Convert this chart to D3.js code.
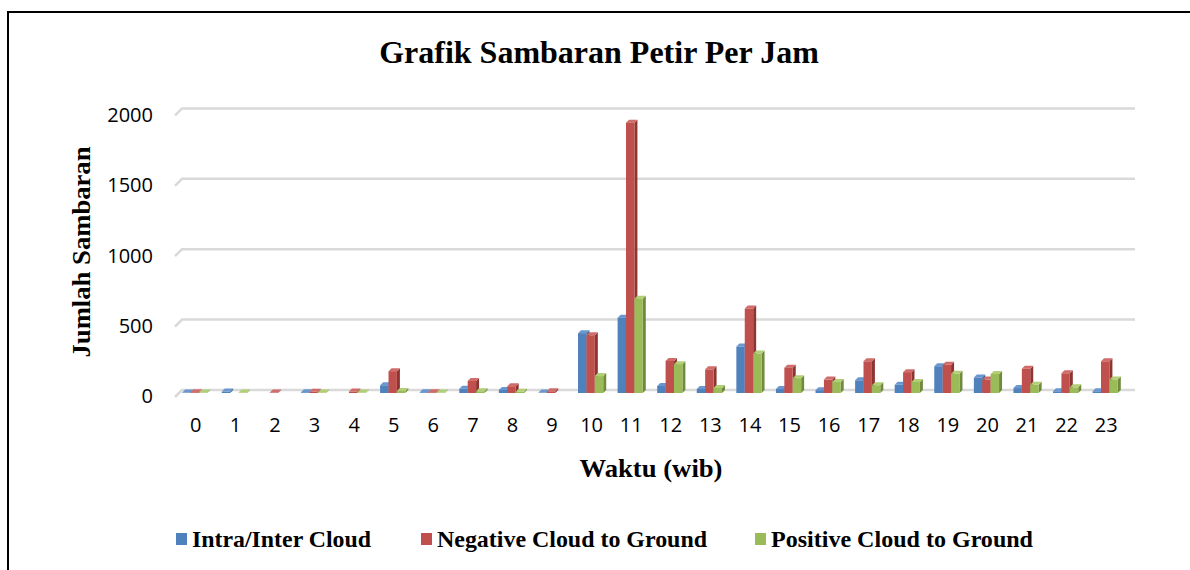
<!DOCTYPE html>
<html>
<head>
<meta charset="utf-8">
<script src="https://cdn.jsdelivr.net/npm/d3@7"></script>
<style>
  body { margin: 0; background: #fff; }
  svg { display: block; }
</style>
</head>
<body>
<svg width="1190" height="570"></svg>
<script>
// hours on x axis
const hours = d3.range(0, 24).map(String);
const seriesNames = ["Intra/Inter Cloud", "Negative Cloud to Ground", "Positive Cloud to Ground"];
const intraCloud = [3, 10, 0, 5, 0, 55, 5, 30, 22, 3, 425, 535, 50, 28, 330, 28, 20, 90, 58, 190, 110, 35, 12, 12];
const negativeCG = [5, 0, 3, 8, 10, 155, 5, 85, 48, 12, 410, 1920, 228, 168, 600, 180, 95, 225, 148, 200, 95, 172, 140, 225];
const positiveCG = [3, 3, 0, 3, 3, 15, 3, 12, 8, 0, 120, 670, 205, 35, 280, 105, 78, 55, 78, 136, 135, 58, 40, 95];
const yTicks = [0, 500, 1000, 1500, 2000];

const colors = ["#4F81BD", "#C0504D", "#9BBB59"];
const sideColors = ["#38608f", "#8e3532", "#718b3d"];
const topColors = ["#6a97cf", "#d06d6a", "#b1cf74"];

const svg = d3.select('svg');

// outer frame (only left and top visible)
svg.append('path')
    .attr('d', 'M8,570 L8,12 L1190,12')
    .attr('fill', 'none')
    .attr('stroke', '#000')
    .attr('stroke-width', 2);

const x = d3.scaleBand()
    .domain(hours)
    .range([176, 1126]);

// back wall scale
const y = d3.scaleLinear()
    .domain([0, 2000])
    .range([390, 108.4]);

const dx = 7, dy = 7; // floor depth

// gridlines with little slanted floor edge
const grid = svg.append('g');
yTicks.forEach(t => {
    const yy = y(t);
    grid.append('path')
        .attr('d', `M${182 - dx},${yy + dy} L182,${yy} L1135,${yy}`)
        .attr('fill', 'none')
        .attr('stroke', '#d9d9d9')
        .attr('stroke-width', 2.5);
});

// y tick labels
svg.append('g')
    .selectAll('text')
    .data(yTicks)
    .enter()
    .append('text')
    .attr('x', 153)
    .attr('y', d => y(d) + 8)
    .attr('text-anchor', 'end')
    .attr('dominant-baseline', 'middle')
    .attr('font-family', 'Open Sans, sans-serif')
    .attr('font-size', 20)
    .text(d => d);

// x tick labels
svg.append('g')
    .selectAll('text')
    .data(hours)
    .enter()
    .append('text')
    .attr('x', d => x(d) + x.bandwidth() / 2)
    .attr('y', 427)
    .attr('text-anchor', 'middle')
    .attr('dominant-baseline', 'middle')
    .attr('font-family', 'Open Sans, sans-serif')
    .attr('font-size', 20)
    .text(d => d);

// bars (front face + top + side for the 3D look)
const barW = 8.4, d3x = 3, d3y = 3;
const series = [intraCloud, negativeCG, positiveCG];
const baseY = 393;
const h = v => (y(0) - y(v));

const bars = svg.append('g');
hours.forEach((hr, i) => {
    const gx = x(hr) + x.bandwidth() / 2 - 1.5 * barW - 1;
    series.forEach((vals, s) => {
        const v = vals[i];
        if (v <= 0) return;
        const bx = gx + s * barW;
        const top = baseY - h(v);
        const g = bars.append('g');
        g.append('path')
            .attr('d', `M${bx + barW},${top} L${bx + barW + d3x},${top - d3y} L${bx + barW + d3x},${baseY - d3y} L${bx + barW},${baseY} Z`)
            .attr('fill', sideColors[s]);
        g.append('path')
            .attr('d', `M${bx},${top} L${bx + d3x},${top - d3y} L${bx + barW + d3x},${top - d3y} L${bx + barW},${top} Z`)
            .attr('fill', topColors[s]);
        g.append('rect')
            .attr('x', bx)
            .attr('y', top)
            .attr('width', barW)
            .attr('height', baseY - top)
            .attr('fill', colors[s]);
    });
});

// titles
svg.append('text')
    .attr('x', 599)
    .attr('y', 63)
    .attr('text-anchor', 'middle')
    .attr('font-family', 'Liberation Serif, serif')
    .attr('font-weight', 'bold')
    .attr('font-size', 32)
    .text('Grafik Sambaran Petir Per Jam');

svg.append('text')
    .attr('transform', 'translate(90,252) rotate(-90)')
    .attr('text-anchor', 'middle')
    .attr('font-family', 'Liberation Serif, serif')
    .attr('font-weight', 'bold')
    .attr('font-size', 26)
    .attr('textLength', 211)
    .attr('lengthAdjust', 'spacingAndGlyphs')
    .text('Jumlah Sambaran');

svg.append('text')
    .attr('x', 651)
    .attr('y', 477)
    .attr('text-anchor', 'middle')
    .attr('font-family', 'Liberation Serif, serif')
    .attr('font-weight', 'bold')
    .attr('font-size', 26)
    .attr('textLength', 143)
    .attr('lengthAdjust', 'spacingAndGlyphs')
    .text('Waktu (wib)');

// legend
const legendX = [176, 421, 755];
const legendW = [179, 270, 262];
const legend = svg.append('g');
seriesNames.forEach((name, i) => {
    legend.append('rect')
        .attr('x', legendX[i])
        .attr('y', 533)
        .attr('width', 11)
        .attr('height', 12)
        .attr('fill', colors[i]);
    legend.append('text')
        .attr('x', legendX[i] + 16)
        .attr('y', 547)
        .attr('font-family', 'Liberation Serif, serif')
        .attr('font-weight', 'bold')
        .attr('font-size', 24)
        .attr('textLength', legendW[i])
        .attr('lengthAdjust', 'spacingAndGlyphs')
        .text(name);
});
</script>
</body>
</html>
